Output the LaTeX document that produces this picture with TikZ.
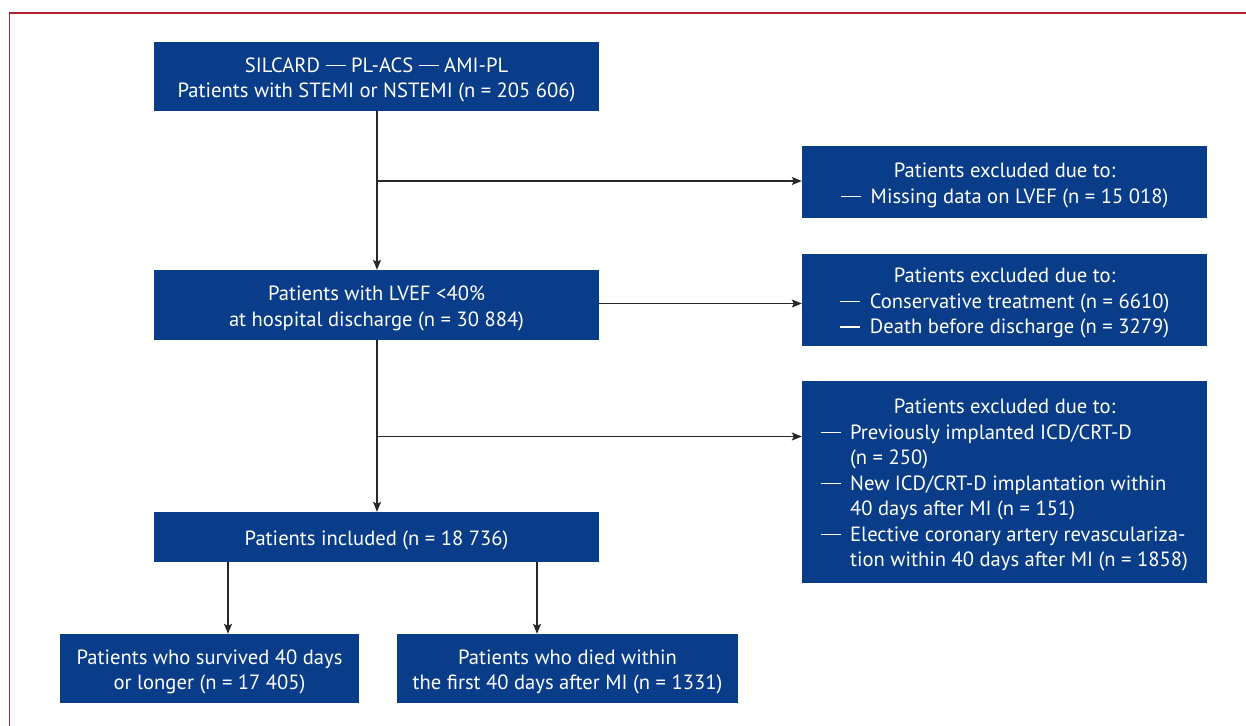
\documentclass[tikz,border=0pt]{standalone}
\usepackage{fontspec}
\setmainfont{PT Sans}
\usetikzlibrary{arrows.meta}
\definecolor{boxblue}{RGB}{9,61,137}
\definecolor{frame}{RGB}{178,34,52}
\definecolor{linegray}{RGB}{40,40,40}
\newcommand{\mdash}{\rule[6.3pt]{20pt}{1.2pt}}
\newcommand{\bt}[1]{\raisebox{-3.3pt}[\height][\depth]{\begin{tabular}{@{}c@{}}#1\end{tabular}}}
\tikzset{
  box/.style={rectangle, fill=boxblue, text=white, inner sep=0pt, align=center,
    font=\fontsize{20.6}{25.5}\selectfont},
  arr/.style={draw=linegray, line width=1.2pt, -{Stealth[length=10pt,width=8pt,inset=2pt]}},
}
\begin{document}
\begin{tikzpicture}[x=1pt,y=-1pt]
\useasboundingbox (0,0) rectangle (1246,725);
\clip (0,0) rectangle (1246,725);
\draw[frame, line width=1.3pt] (9.5,740) -- (9.5,13) -- (1260,13);

\node[box, minimum width=445pt, minimum height=69pt] (top) at (376.5,76.5)
  {\bt{SILCARD \mdash{} PL-ACS \mdash{} AMI-PL\\Patients with STEMI or NSTEMI (n = 205 606)}};
\node[box, minimum width=405pt, minimum height=72pt] (ex1) at (1004.5,182)
  {\bt{Patients excluded due to:\\\mdash\hspace{10pt}Missing data on LVEF (n = 15 018)}};
\node[box, minimum width=445pt, minimum height=70pt] (lvef) at (376.5,305)
  {\bt{Patients with LVEF <40\%\\at hospital discharge (n = 30 884)}};
\node[box, minimum width=405pt, minimum height=92pt] (ex2) at (1004.5,300)
  {\bt{Patients excluded due to:\\\mdash\hspace{10pt}Conservative treatment (n = 6610)\\\mdash\hspace{10pt}Death before discharge (n = 3279)}};
\node[box, minimum width=405pt, minimum height=202pt] (ex3) at (1004.5,482)
  {\raisebox{-3.3pt}[\height][\depth]{\begin{tabular}{@{}l@{\hspace{9pt}}l@{}}
   \multicolumn{2}{c}{Patients excluded due to:}\\
   \mdash & Previously implanted ICD/CRT-D\\
     & (n = 250)\\
   \mdash & New ICD/CRT-D implantation within\\
     & 40 days after MI (n = 151)\\
   \mdash & Elective coronary artery revasculariza-\\
     & tion within 40 days after MI (n = 1858)
   \end{tabular}}};
\node[box, minimum width=445pt, minimum height=50pt] (inc) at (376.5,537)
  {\bt{Patients included (n = 18 736)}};
\node[box, minimum width=299pt, minimum height=69pt] (surv) at (209.5,668.5)
  {\bt{Patients who survived 40 days\\or longer (n = 17 405)}};
\node[box, minimum width=341pt, minimum height=69pt] (died) at (567.5,668.5)
  {\bt{Patients who died within\\the first 40 days after MI (n = 1331)}};

\coordinate (j1) at (377,181);
\coordinate (j2) at (377,436.5);
\coordinate (b1) at (228,562);
\coordinate (b2) at (537,562);

\draw[arr] (top.south -| j1) -- (lvef.north -| j1);
\draw[arr] (j1) -- (j1 -| ex1.west);
\draw[arr] (lvef.east |- 0,303.5) -- (ex2.west |- 0,303.5);
\draw[arr] (lvef.south -| j2) -- (inc.north -| j2);
\draw[arr] (j2) -- (j2 -| ex3.west);
\draw[arr] (b1) -- (b1 |- surv.north);
\draw[arr] (b2) -- (b2 |- died.north);
\end{tikzpicture}
\end{document}
